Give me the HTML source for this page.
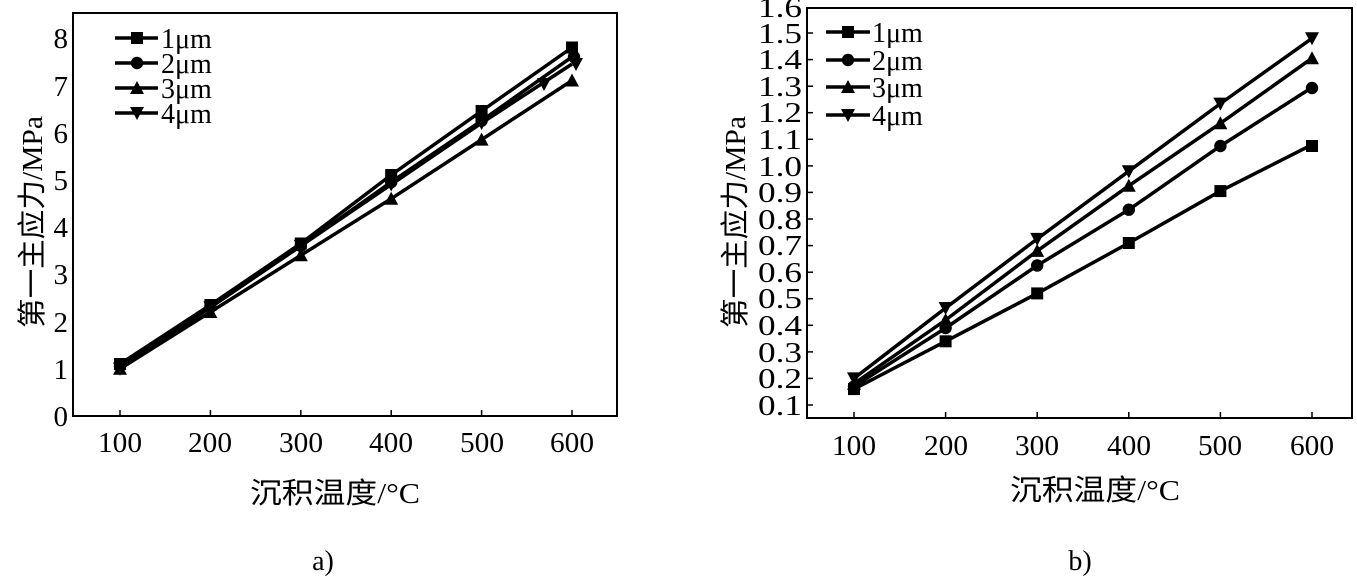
<!DOCTYPE html>
<html><head><meta charset="utf-8"><style>
body{margin:0;background:#fff;}
svg{display:block;}
text{font-family:"Liberation Serif","Noto Serif CJK SC",serif;fill:#000;}
.cj{font-family:"Liberation Serif","Noto Sans CJK SC",sans-serif;}
</style></head><body>
<svg width="1357" height="577" viewBox="0 0 1357 577" xmlns="http://www.w3.org/2000/svg">
<defs>
<g id="sq"><rect x="-6" y="-6" width="12" height="12" fill="#000"/></g>
<g id="ci"><circle r="6.2" fill="#000"/></g>
<g id="tu"><polygon points="0,-7 7,6 -7,6" fill="#000"/></g>
<g id="td"><polygon points="0,7 7,-6 -7,-6" fill="#000"/></g>
</defs>
<!-- LEFT CHART -->
<rect x="73" y="13" width="544" height="403" fill="none" stroke="#000" stroke-width="2"/>
<g stroke="#000" stroke-width="1.5">
<line x1="120" y1="416" x2="120" y2="410"/><line x1="210.4" y1="416" x2="210.4" y2="410"/><line x1="300.8" y1="416" x2="300.8" y2="410"/><line x1="391.2" y1="416" x2="391.2" y2="410"/><line x1="481.6" y1="416" x2="481.6" y2="410"/><line x1="572" y1="416" x2="572" y2="410"/>
</g>
<g font-size="29" text-anchor="end">
<text x="68" y="426">0</text><text x="68" y="379">1</text><text x="68" y="332">2</text><text x="68" y="284">3</text><text x="68" y="237">4</text><text x="68" y="190">5</text><text x="68" y="143">6</text><text x="68" y="96">7</text><text x="68" y="48">8</text>
</g>
<g font-size="29" text-anchor="middle" lengthAdjust="spacingAndGlyphs">
<text x="120" y="452" textLength="44" lengthAdjust="spacingAndGlyphs">100</text><text x="210" y="452" textLength="44" lengthAdjust="spacingAndGlyphs">200</text><text x="301" y="452" textLength="44" lengthAdjust="spacingAndGlyphs">300</text><text x="391" y="452" textLength="44" lengthAdjust="spacingAndGlyphs">400</text><text x="482" y="452" textLength="44" lengthAdjust="spacingAndGlyphs">500</text><text x="572" y="452" textLength="44" lengthAdjust="spacingAndGlyphs">600</text>
</g>
<g fill="none" stroke="#000" stroke-width="3.5">
<polyline points="120,364 210.4,305 300.8,243.5 391.2,175 481.6,111 572,47.5"/>
<polyline points="120,366.4 210.4,307.3 300.8,245.9 391.2,182.1 481.6,120.7 572,56.9"/>
<polyline points="120,368.8 210.4,312 300.8,255.3 391.2,198.7 481.6,139.6 572,80.5"/>
<polyline points="120,368.8 210.4,307.3 300.8,245.9 391.2,184.5 481.6,123 572,64"/>
</g>
<g>
<use href="#sq" x="120" y="364"/><use href="#sq" x="210.4" y="305"/><use href="#sq" x="300.8" y="243.5"/><use href="#sq" x="391.2" y="175"/><use href="#sq" x="481.6" y="111"/><use href="#sq" x="572" y="47.5"/>
<use href="#ci" x="120" y="366.4"/><use href="#ci" x="210.4" y="307.3"/><use href="#ci" x="300.8" y="245.9"/><use href="#ci" x="391.2" y="182.1"/><use href="#ci" x="481.6" y="120.7"/><use href="#ci" x="574" y="56.9"/>
<use href="#tu" x="120" y="368.8"/><use href="#tu" x="210.4" y="312"/><use href="#tu" x="300.8" y="255.3"/><use href="#tu" x="391.2" y="198.7"/><use href="#tu" x="481.6" y="139.6"/><use href="#tu" x="572" y="80.5"/>
<use href="#td" x="120" y="368.8"/><use href="#td" x="210.4" y="307.3"/><use href="#td" x="300.8" y="245.9"/><use href="#td" x="391.2" y="184.5"/><use href="#td" x="481.6" y="123"/><use href="#td" x="576" y="64"/><use href="#td" x="544" y="84"/>
</g>
<g stroke="#000" stroke-width="3.5">
<line x1="115" y1="38" x2="158" y2="38"/><line x1="115" y1="63" x2="158" y2="63"/><line x1="115" y1="88" x2="158" y2="88"/><line x1="115" y1="113" x2="158" y2="113"/>
</g>
<use href="#sq" x="137" y="38"/><use href="#ci" x="137" y="63"/><use href="#tu" x="137" y="88"/><use href="#td" x="137" y="113"/>
<g font-size="28"><text x="161" y="48">1μm</text><text x="161" y="73">2μm</text><text x="161" y="98">3μm</text><text x="161" y="123">4μm</text></g>
<text class="cj" x="335" y="503" font-size="29" text-anchor="middle" textLength="170" lengthAdjust="spacingAndGlyphs">沉积温度/°C</text>
<text class="cj" font-size="29" text-anchor="middle" transform="translate(42,222) rotate(-90)" textLength="212" lengthAdjust="spacingAndGlyphs">第一主应力/MPa</text>
<text x="323" y="570" font-size="28" text-anchor="middle">a)</text>

<!-- RIGHT CHART -->
<rect x="807" y="8" width="545" height="410" fill="none" stroke="#000" stroke-width="2"/>
<g stroke="#000" stroke-width="1.5">
<line x1="854" y1="418" x2="854" y2="412"/><line x1="945.6" y1="418" x2="945.6" y2="412"/><line x1="1037.2" y1="418" x2="1037.2" y2="412"/><line x1="1128.8" y1="418" x2="1128.8" y2="412"/><line x1="1220.4" y1="418" x2="1220.4" y2="412"/><line x1="1312" y1="418" x2="1312" y2="412"/>
<line x1="807" y1="405" x2="813" y2="405"/><line x1="807" y1="378.4" x2="813" y2="378.4"/><line x1="807" y1="351.9" x2="813" y2="351.9"/><line x1="807" y1="325.3" x2="813" y2="325.3"/><line x1="807" y1="298.7" x2="813" y2="298.7"/><line x1="807" y1="272.2" x2="813" y2="272.2"/><line x1="807" y1="245.6" x2="813" y2="245.6"/><line x1="807" y1="219" x2="813" y2="219"/><line x1="807" y1="192.4" x2="813" y2="192.4"/><line x1="807" y1="165.9" x2="813" y2="165.9"/><line x1="807" y1="139.3" x2="813" y2="139.3"/><line x1="807" y1="112.7" x2="813" y2="112.7"/><line x1="807" y1="86.2" x2="813" y2="86.2"/><line x1="807" y1="59.6" x2="813" y2="59.6"/><line x1="807" y1="33" x2="813" y2="33"/>
</g>
<g font-size="29" text-anchor="end">
<text x="802" y="415" textLength="44" lengthAdjust="spacingAndGlyphs">0.1</text><text x="802" y="388" textLength="44" lengthAdjust="spacingAndGlyphs">0.2</text><text x="802" y="362" textLength="44" lengthAdjust="spacingAndGlyphs">0.3</text><text x="802" y="335" textLength="44" lengthAdjust="spacingAndGlyphs">0.4</text><text x="802" y="308" textLength="44" lengthAdjust="spacingAndGlyphs">0.5</text><text x="802" y="282" textLength="44" lengthAdjust="spacingAndGlyphs">0.6</text><text x="802" y="255" textLength="44" lengthAdjust="spacingAndGlyphs">0.7</text><text x="802" y="229" textLength="44" lengthAdjust="spacingAndGlyphs">0.8</text><text x="802" y="202" textLength="44" lengthAdjust="spacingAndGlyphs">0.9</text><text x="802" y="176" textLength="44" lengthAdjust="spacingAndGlyphs">1.0</text><text x="802" y="149" textLength="44" lengthAdjust="spacingAndGlyphs">1.1</text><text x="802" y="122" textLength="44" lengthAdjust="spacingAndGlyphs">1.2</text><text x="802" y="96" textLength="44" lengthAdjust="spacingAndGlyphs">1.3</text><text x="802" y="69" textLength="44" lengthAdjust="spacingAndGlyphs">1.4</text><text x="802" y="43" textLength="44" lengthAdjust="spacingAndGlyphs">1.5</text><text x="802" y="17" textLength="44" lengthAdjust="spacingAndGlyphs">1.6</text>
</g>
<g font-size="29" text-anchor="middle">
<text x="854" y="455" textLength="44" lengthAdjust="spacingAndGlyphs">100</text><text x="946" y="455" textLength="44" lengthAdjust="spacingAndGlyphs">200</text><text x="1037" y="455" textLength="44" lengthAdjust="spacingAndGlyphs">300</text><text x="1129" y="455" textLength="44" lengthAdjust="spacingAndGlyphs">400</text><text x="1220" y="455" textLength="44" lengthAdjust="spacingAndGlyphs">500</text><text x="1312" y="455" textLength="44" lengthAdjust="spacingAndGlyphs">600</text>
</g>
<g fill="none" stroke="#000" stroke-width="3.5">
<polyline points="854,389.1 945.6,341.3 1037.2,293.4 1128.8,243 1220.4,191.1 1312,144.7"/>
<polyline points="854,386.4 945.6,328 1037.2,265.5 1128.8,209.7 1220.4,146 1312,87.5"/>
<polyline points="854,383.7 945.6,320 1037.2,250.9 1128.8,185.8 1220.4,123.3 1312,58.2"/>
<polyline points="854,378.4 945.6,308 1037.2,238.9 1128.8,171.2 1220.4,103.6 1312,38.3"/>
</g>
<g>
<use href="#sq" x="854" y="389.1"/><use href="#sq" x="945.6" y="341.3"/><use href="#sq" x="1037.2" y="293.4"/><use href="#sq" x="1128.8" y="243"/><use href="#sq" x="1220.4" y="191.1"/><use href="#sq" x="1312" y="146"/>
<use href="#ci" x="854" y="386.4"/><use href="#ci" x="945.6" y="328"/><use href="#ci" x="1037.2" y="265.5"/><use href="#ci" x="1128.8" y="209.7"/><use href="#ci" x="1220.4" y="146"/><use href="#ci" x="1312" y="88"/>
<use href="#tu" x="854" y="383.7"/><use href="#tu" x="945.6" y="320"/><use href="#tu" x="1037.2" y="250.9"/><use href="#tu" x="1128.8" y="185.8"/><use href="#tu" x="1220.4" y="123.3"/><use href="#tu" x="1312" y="58.2"/>
<use href="#td" x="854" y="378.4"/><use href="#td" x="945.6" y="308"/><use href="#td" x="1037.2" y="238.9"/><use href="#td" x="1128.8" y="171.2"/><use href="#td" x="1220.4" y="103.6"/><use href="#td" x="1312" y="38.3"/>
</g>
<g stroke="#000" stroke-width="3.5">
<line x1="826" y1="32" x2="870" y2="32"/><line x1="826" y1="60" x2="870" y2="60"/><line x1="826" y1="87" x2="870" y2="87"/><line x1="826" y1="115" x2="870" y2="115"/>
</g>
<use href="#sq" x="848" y="32"/><use href="#ci" x="848" y="60"/><use href="#tu" x="848" y="87"/><use href="#td" x="848" y="115"/>
<g font-size="28"><text x="872" y="42">1μm</text><text x="872" y="70">2μm</text><text x="872" y="97">3μm</text><text x="872" y="125">4μm</text></g>
<text class="cj" x="1095" y="500" font-size="29" text-anchor="middle" textLength="170" lengthAdjust="spacingAndGlyphs">沉积温度/°C</text>
<text class="cj" font-size="29" text-anchor="middle" transform="translate(745,222) rotate(-90)" textLength="212" lengthAdjust="spacingAndGlyphs">第一主应力/MPa</text>
<text x="1080" y="570" font-size="28" text-anchor="middle">b)</text>
</svg>
</body></html>
